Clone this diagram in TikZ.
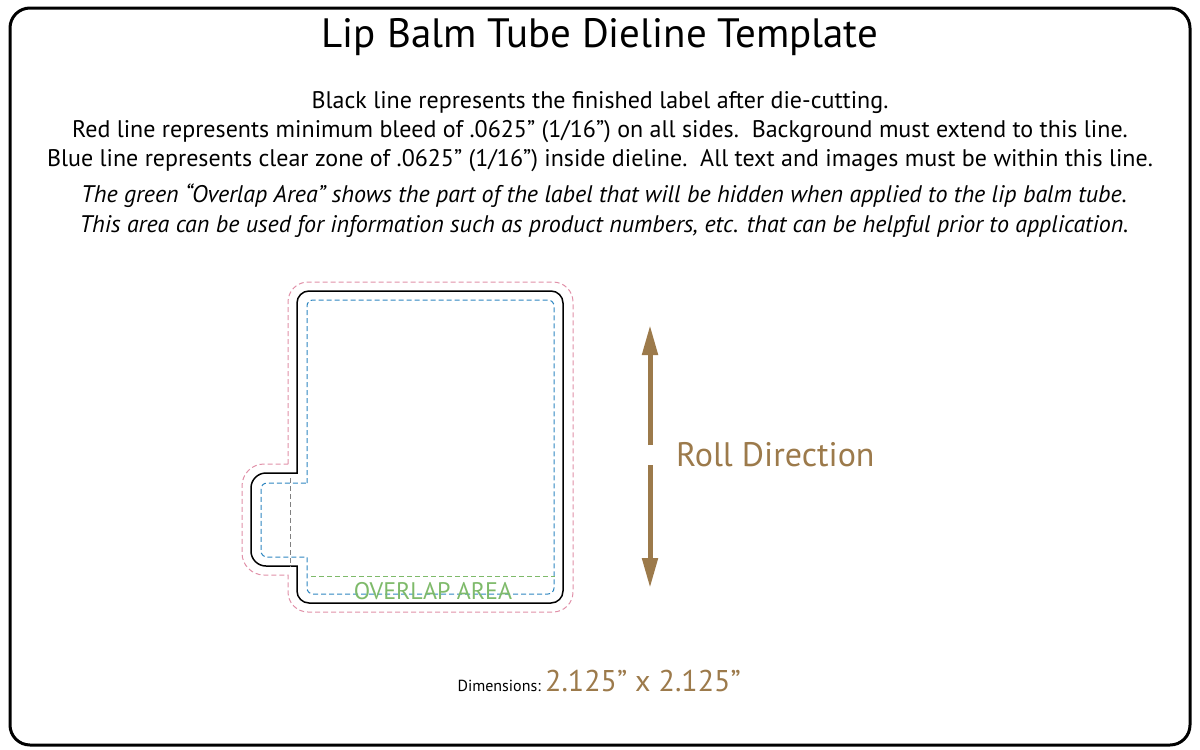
\documentclass[tikz,border=0pt]{standalone}
\usepackage{fontspec}
\setmainfont{PT Sans}
\usetikzlibrary{arrows.meta}
\definecolor{brownish}{HTML}{9C7A4B}
\definecolor{bleedred}{HTML}{E090A8}
\definecolor{safeblue}{HTML}{2E86C0}
\definecolor{overgreen}{HTML}{7EBA6A}
\begin{document}
\begin{tikzpicture}[x=1pt,y=-1pt]
    \tikzstyle{info}=[inner sep=0pt,font=\fontsize{24}{28}\selectfont]
    \tikzstyle{roll}=[draw=brownish,line width=5pt,-{Triangle[length=30pt,width=15pt]}]
    \tikzstyle{cutdash}=[dash pattern=on 5pt off 3pt,line width=1pt]
    \useasboundingbox (0,0) rectangle (1200,750);
    \draw [line width=3pt,rounded corners=20pt] (10,8) rectangle (1190,745);
    \node [inner sep=0pt,font=\fontsize{41}{46}\selectfont] (title) at (600,37) {Lip Balm Tube Dieline Template};
    \node [info] (l1) at (600,103) {Black line represents the finished label after die-cutting.};
    \node [info] (l2) at (600,132) {Red line represents minimum bleed of .0625” (1/16”) on all sides.\ \ Background must extend to this line.};
    \node [info] (l3) at (600,161) {Blue line represents clear zone of .0625” (1/16”) inside dieline.\ \ All text and images must be within this line.};
    \node [info,font=\fontsize{24}{28}\selectfont\itshape] (l4) at (604,196) {The green “Overlap Area” shows the part of the label that will be hidden when applied to the lip balm tube.};
    \node [info,font=\fontsize{24}{28}\selectfont\itshape] (l5) at (604,226) {This area can be used for information such as product numbers, etc. that can be helpful prior to application.};
    % bleed
    \draw [bleedred,cutdash] (288,464) [rounded corners=20pt]-- (288,282) -- (573,282) -- (573,612) -- (288,612) [sharp corners]-- (288,575) [rounded corners=22pt]-- (242,575) -- (242,464) [sharp corners]-- cycle;
    % dieline
    \draw [line width=1.5pt] (297,473) [rounded corners=12pt]-- (297,291) -- (563,291) -- (563,603) -- (297,603) [sharp corners]-- (297,566) [rounded corners=15pt]-- (251,566) -- (251,473) [sharp corners]-- cycle;
    % clear zone
    \draw [safeblue,cutdash] (307,483) [rounded corners=6pt]-- (307,300) -- (554,300) -- (554,594) -- (307,594) [sharp corners]-- (307,557) [rounded corners=6pt]-- (261,557) -- (261,483) [sharp corners]-- cycle;
    \draw [gray,cutdash,line width=0.7pt] (290,478) -- (290,567);
    \draw [overgreen,cutdash] (311,576) -- (555,576);
    \node [inner sep=0pt,text=overgreen,font=\fontsize{24}{28}\selectfont] (overlap) at (433,591) {OVERLAP AREA};
    % roll direction
    \coordinate (upfrom) at (650,445);
    \coordinate (upto) at (650,325);
    \coordinate (downfrom) at (650,465);
    \coordinate (downto) at (650,588);
    \draw [roll] (upfrom) -- (upto);
    \draw [roll] (downfrom) -- (downto);
    \node [anchor=west,inner sep=0pt,text=brownish,font=\fontsize{34}{40}\selectfont] (rolldir) at (676,455) {Roll Direction};
    \node [anchor=base east,inner sep=0pt,font=\fontsize{16}{19}\selectfont] (dimlabel) at (541,691) {Dimensions:};
    \node [anchor=base west,inner sep=0pt,text=brownish,font=\fontsize{30}{34}\selectfont] (dims) at (545,691) {2.125” x 2.125”};
\end{tikzpicture}
\end{document}
